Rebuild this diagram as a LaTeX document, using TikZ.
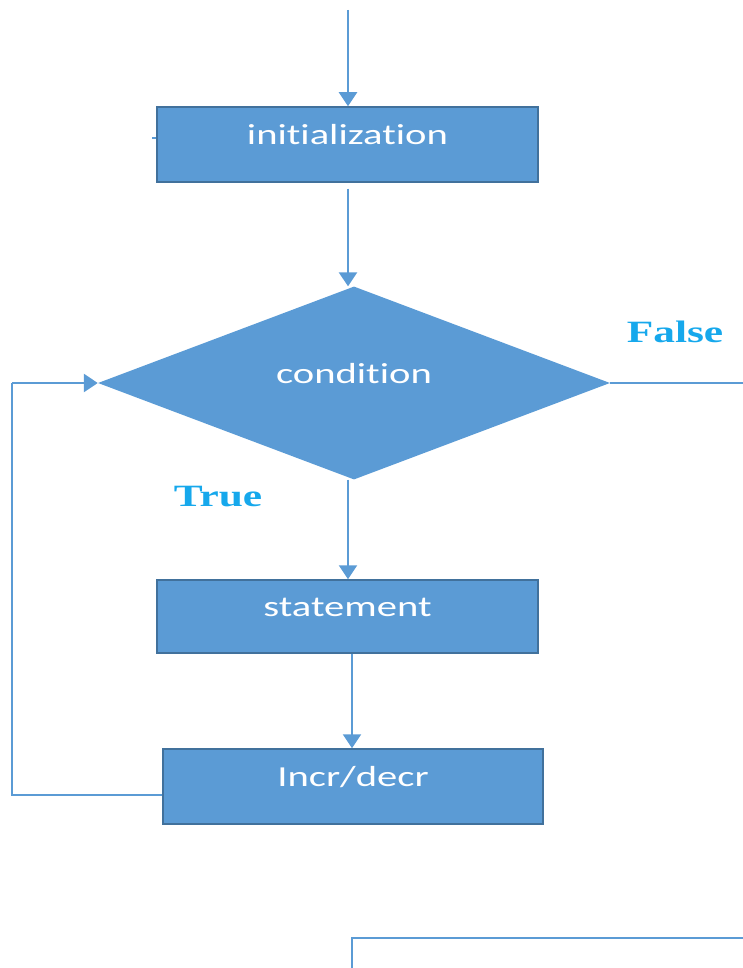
\documentclass[tikz,border=0pt]{standalone}
\usepackage{fontspec}
\setmainfont{Carlito}[RawFeature={-liga;-clig;-dlig;-calt}]
\newfontfamily\lblfont{Liberation Serif}
\usetikzlibrary{shapes.geometric,arrows.meta}
\definecolor{boxfill}{RGB}{91,155,213}
\definecolor{boxedge}{RGB}{65,113,156}
\definecolor{lblcol}{RGB}{22,168,236}
\newcommand{\wtxt}[1]{\scalebox{1.4}[1]{#1}}
\tikzset{
  box/.style={rectangle, fill=boxfill, draw=boxedge, line width=1.5pt, inner sep=0pt,
    text=white, font=\fontsize{29}{31}\selectfont, text height=15pt, text depth=15pt},
  decision/.style={diamond, fill=boxfill, draw=none, inner sep=0pt,
    text=white, font=\fontsize{29}{31}\selectfont, text height=15pt, text depth=15pt},
  conn/.style={draw=boxfill, line width=2.4pt},
  arr/.style={conn, -{Triangle[width=18pt,length=14pt]}},
  lbl/.style={text=lblcol, font=\lblfont\bfseries\fontsize{31}{33}\selectfont, inner sep=0pt}
}
\begin{document}
\begin{tikzpicture}[x=1pt,y=-1pt]
\useasboundingbox (0,0) rectangle (743,968);
\node[box, minimum width=381pt, minimum height=75pt] (init) at (347.5,144.5) {\wtxt{initialization}};
\node[decision, minimum width=512pt, minimum height=193pt] (cond) at (354,383) {\wtxt{condition}};
\node[box, minimum width=381pt, minimum height=73pt] (stmt) at (347.5,616.5) {\wtxt{statement}};
\node[box, minimum width=380pt, minimum height=75pt] (incr) at (353,786.5) {\wtxt{Incr/decr}};
\node[lbl] (false) at (675,332) {\wtxt{False}};
\node[lbl] (true) at (218,497) {\wtxt{True}};
\coordinate (start) at (348,10);
\coordinate (tick) at (152,138);
\coordinate (loopb) at (12,795);
\coordinate (loopt) at (12,383);
\coordinate (exit) at (743,383);
\coordinate (bota) at (352,968);
\coordinate (botb) at (352,938);
\coordinate (botc) at (743,938);
% connectors
\draw[arr] (start) -- (start |- init.north);
\draw[conn] (tick) -- (tick -| init.west);
\draw[arr] ([yshift=-6pt]init.south -| start) -- (start |- cond.north);
\draw[arr] (cond.south -| start) -- (start |- stmt.north);
\draw[arr] (stmt.south -| bota) -- (bota |- incr.north);
\draw[conn] (loopb -| incr.west) -- (loopb) -- (loopt);
\draw[arr] (loopt) -- (cond.west);
\draw[conn] (cond.east) -- (exit);
\draw[conn] (bota) -- (botb) -- (botc);
\end{tikzpicture}
\end{document}
